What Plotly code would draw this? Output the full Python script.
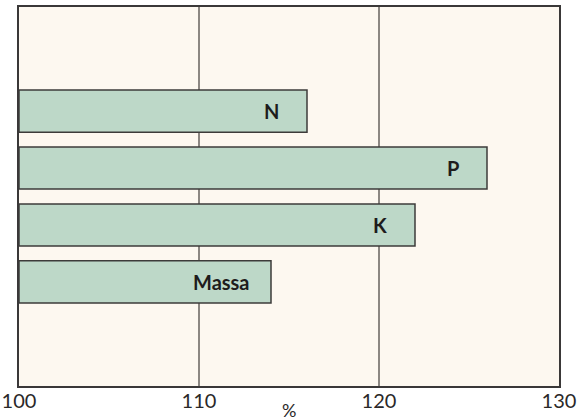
import plotly.graph_objects as go

categories = ["Massa", "K", "P", "N"]
values = [114, 122, 126, 116]
x_ticks = [100, 110, 120, 130]
x_tick_labels = ["100", "110", "120", "130"]
axis_title = "%"

bar_fill = "#bdd8c8"
bar_line = "#3d3b3a"
bg = "#fdf8f0"
grid = "#8c8782"
frame = "#3a3838"
font_family = "Lato, 'Noto Sans', sans-serif"

fig = go.Figure()
fig.add_trace(go.Bar(
    x=[v - 100 for v in values],
    base=100,
    y=list(range(len(categories))),
    orientation="h",
    width=0.74,
    marker=dict(color=bar_fill, line=dict(color=bar_line, width=1.5)),
    hoverinfo="skip",
))

for i, (c, v) in enumerate(zip(categories, values)):
    fig.add_annotation(
        x=v, y=i, xref="x", yref="y", text="<b>%s</b>" % c,
        showarrow=False, xanchor="right", xshift=-26 if c != "Massa" else -19,
        font=dict(family=font_family, size=20, color="#1e1c1c"),
    )

fig.add_annotation(
    x=115, y=0, xref="x", yref="paper", yanchor="middle", yshift=-24,
    text=axis_title, showarrow=False,
    font=dict(family=font_family, size=18, color="#2a2828"),
)

fig.update_layout(
    width=584, height=420,
    margin=dict(l=18.5, r=25, t=7, b=34.3, pad=0),
    paper_bgcolor="white",
    plot_bgcolor=bg,
    showlegend=False,
    bargap=0.2,
    xaxis=dict(
        range=[100, 130], tickvals=x_ticks, ticktext=x_tick_labels,
        showgrid=True, gridcolor=grid, gridwidth=1.5, automargin=False,
        zeroline=False, showline=True, linecolor=frame, linewidth=2, mirror=True,
        ticks="", ticklabelstandoff=-4,
        tickfont=dict(family=font_family, size=20, color="#2a2828"),
    ),
    yaxis=dict(
        range=[-1.83, 4.83], showticklabels=False, showgrid=False, automargin=False,
        zeroline=False, showline=True, linecolor=frame, linewidth=2, mirror=True,
        ticks="",
    ),
)

fig.write_html("out.html", config={"displayModeBar": False},
               post_script="document.body.style.margin='0';")
